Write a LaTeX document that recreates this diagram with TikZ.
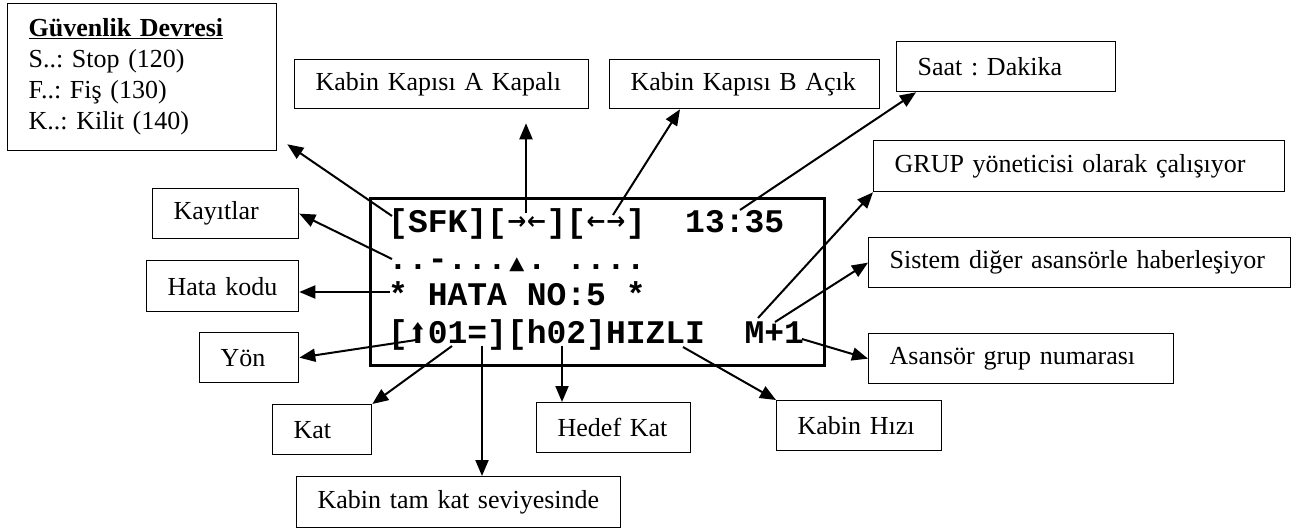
\documentclass[tikz,border=0pt]{standalone}
\usepackage{fontspec}
\usepackage{graphicx}
\setmainfont{Liberation Serif}
\newfontfamily\lcd{Liberation Mono}
\newfontfamily\symf{DejaVu Sans}
\usetikzlibrary{arrows.meta, calc}

\tikzset{
  kutu/.style={draw, line width=1.3pt, anchor=north west, inner xsep=21pt, inner ysep=0pt,
    minimum height=49pt, align=left, font=\fontsize{26}{31}\selectfont\frenchspacing},
  ok/.style={line width=2pt, -{Triangle[length=16pt,width=13pt]}},
  ekran/.style={anchor=base west, inner sep=0pt, font=\lcd\bfseries\fontsize{33}{37}\selectfont},
}
\newcommand{\yukari}{\makebox[0.6em]{\resizebox*{17pt}{21pt}{\symf ⬆}}}
\newcommand{\sag}{\makebox[0.6em]{\raisebox{3pt}{\resizebox*{19pt}{13pt}{\symf →}}}}
\newcommand{\sol}{\makebox[0.6em]{\raisebox{3pt}{\resizebox*{19pt}{13pt}{\symf ←}}}}
\newcommand{\ucgen}{\makebox[0.6em]{\resizebox*{15pt}{14pt}{\symf ▲}}}

\begin{document}
\begin{tikzpicture}[x=1pt, y=-1pt]
\useasboundingbox (0,0) rectangle (1300,530);

% etiket kutulari
\node[kutu, text width=227pt, minimum height=147pt] (guv) at (7,3)
  {\textbf{\underline{Güvenlik Devresi}}\\S..: Stop (120)\\F..: Fiş (130)\\K..: Kilit (140)};
\node[kutu, text width=252pt] (akap) at (294,59) {Kabin Kapısı A Kapalı};
\node[kutu, text width=228pt] (bkap) at (609,59) {Kabin Kapısı B Açık};
\node[kutu, text width=177pt, minimum height=50pt] (saat) at (896,41) {Saat : Dakika};
\node[kutu, text width=369pt, minimum height=51pt] (grup) at (873,140) {GRUP yöneticisi olarak çalışıyor};
\node[kutu, text width=380pt, minimum height=50pt] (sist) at (868,237) {Sistem diğer asansörle haberleşiyor};
\node[kutu, text width=263pt, minimum height=50pt] (asn) at (868,333) {Asansör grup numarası};
\node[kutu, text width=123pt, minimum height=50pt] (hiz) at (776,400) {Kabin Hızı};
\node[kutu, text width=112pt, minimum height=50pt] (hedef) at (536,402) {Hedef Kat};
\node[kutu, text width=57pt, minimum height=50pt] (kat) at (272,404) {Kat};
\node[kutu, text width=282pt, minimum height=51pt] (tam) at (296,476) {Kabin tam kat seviyesinde};
\node[kutu, text width=57pt, minimum height=50pt] (yon) at (199,332) {Yön};
\node[kutu, text width=110pt, minimum height=51pt] (hata) at (146,260) {Hata kodu};
\node[kutu, text width=104pt, minimum height=50pt] (kay) at (152,188) {Kayıtlar};

% ekran
\node[draw, line width=3pt, anchor=north west, inner sep=0pt,
  minimum width=454pt, minimum height=167pt] (lcdbox) at (368.5,196.5) {};
\node[ekran] (s1) at (388,232) {[SFK][\sag\sol][\sol\sag]~~13:35};
\node[ekran] (s2) at (388,269) {..-...\ucgen.~....};
\node[ekran] (s3) at (388,305) {*~HATA~NO:5~*};
\node[ekran] (s4) at (388,343) {[\yukari01=][h02]HIZLI~~M+1};

% ok baslangiclari
\coordinate (p-sfk) at (392,216);
\coordinate (p-a) at (526,213);
\coordinate (p-b) at (613,215);
\coordinate (p-saat) at (740,210);
\coordinate (p-kay) at (392,259);
\coordinate (p-hata) at (390,292);
\coordinate (p-yon) at (416,340);
\coordinate (p-kat) at (452,346);
\coordinate (p-esit) at (482,346);
\coordinate (p-h02) at (562,346);
\coordinate (p-hiz) at (683,347);
\coordinate (p-m) at (758,318);
\coordinate (p-arti) at (775,322);
\coordinate (p-m1) at (802,339);

\draw[ok] (p-sfk) -- ([shift={(10,-7)}]guv.south east);
\draw[ok, shorten >=14pt] (p-a) -- (p-a |- akap.south);
\draw[ok] (p-b) -- ([xshift=71pt]bkap.south west);
\draw[ok] (p-saat) -- ([xshift=20pt]saat.south west);
\draw[ok] (p-kay) -- (kay.east);
\draw[ok] (p-hata) -- (p-hata -| hata.east);
\draw[ok] (p-yon) -- (yon.east);
\draw[ok] (p-kat) -- (kat.north east);
\draw[ok] (p-esit) -- (p-esit |- tam.north);
\draw[ok] (p-h02) -- (p-h02 |- hedef.north);
\draw[ok] (p-hiz) -- (hiz.north west);
\draw[ok] (p-m) -- (grup.south west);
\draw[ok] (p-arti) -- (sist.west);
\draw[ok] (p-m1) -- (asn.west);
\end{tikzpicture}
\end{document}
